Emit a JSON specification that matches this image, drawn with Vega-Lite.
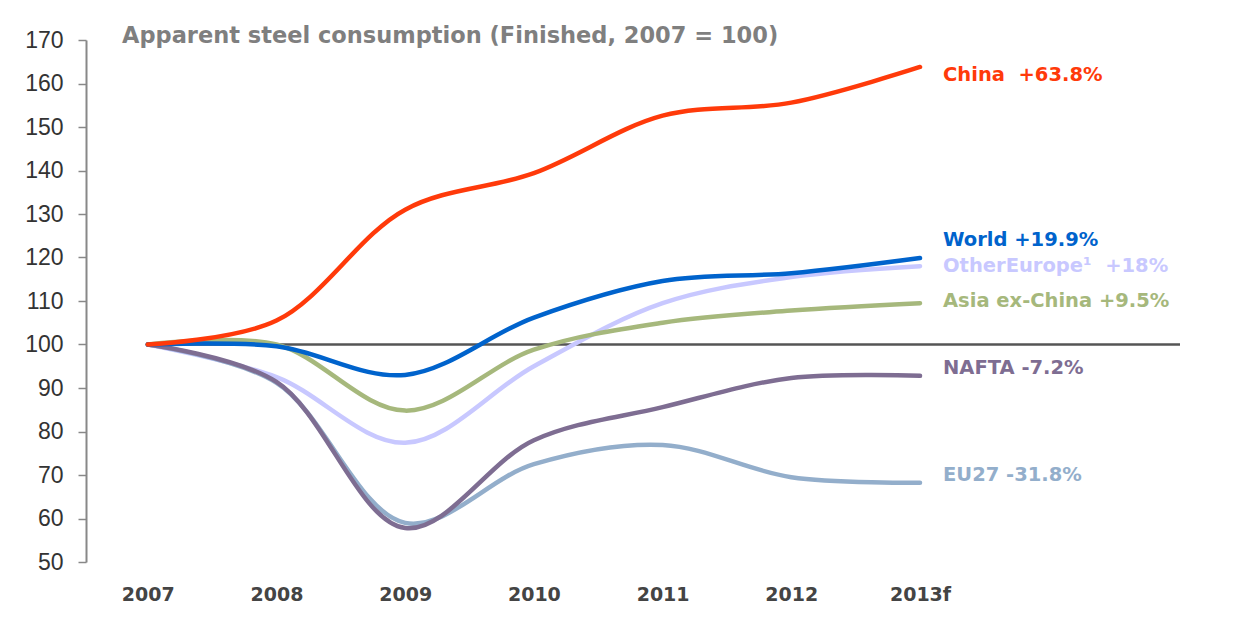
{
  "$schema": "https://vega.github.io/schema/vega-lite/v6.json",
  "autosize": {"type": "none"},
  "padding": {"left": 86, "top": 40, "right": 70, "bottom": 79},
  "width": 1094,
  "height": 522,
  "background": "white",
  "config": {"view": {"stroke": null}},
  "title": {
    "text": "Apparent steel consumption (Finished, 2007 = 100)",
    "anchor": "start",
    "frame": "group",
    "dx": 36,
    "dy": 35,
    "offset": 6,
    "baseline": "middle",
    "font": "DejaVu Sans",
    "fontSize": 22.5,
    "fontWeight": "bold",
    "color": "#7f7f7f"
  },
  "datasets": {
    "series": [
      {"region": "Other Europe", "year": 2007, "value": 100},
      {"region": "Other Europe", "year": 2008, "value": 92.5},
      {"region": "Other Europe", "year": 2009, "value": 77.4},
      {"region": "Other Europe", "year": 2010, "value": 95},
      {"region": "Other Europe", "year": 2011, "value": 109.5},
      {"region": "Other Europe", "year": 2012, "value": 115.5},
      {"region": "Other Europe", "year": 2013, "value": 118},
      {"region": "Asia ex-China", "year": 2007, "value": 100},
      {"region": "Asia ex-China", "year": 2008, "value": 100},
      {"region": "Asia ex-China", "year": 2009, "value": 84.8},
      {"region": "Asia ex-China", "year": 2010, "value": 98.8},
      {"region": "Asia ex-China", "year": 2011, "value": 105},
      {"region": "Asia ex-China", "year": 2012, "value": 107.8},
      {"region": "Asia ex-China", "year": 2013, "value": 109.5},
      {"region": "EU27", "year": 2007, "value": 100},
      {"region": "EU27", "year": 2008, "value": 91.2},
      {"region": "EU27", "year": 2009, "value": 59},
      {"region": "EU27", "year": 2010, "value": 72.5},
      {"region": "EU27", "year": 2011, "value": 76.9},
      {"region": "EU27", "year": 2012, "value": 69.5},
      {"region": "EU27", "year": 2013, "value": 68.2},
      {"region": "NAFTA", "year": 2007, "value": 100},
      {"region": "NAFTA", "year": 2008, "value": 91.4},
      {"region": "NAFTA", "year": 2009, "value": 57.8},
      {"region": "NAFTA", "year": 2010, "value": 78},
      {"region": "NAFTA", "year": 2011, "value": 85.6},
      {"region": "NAFTA", "year": 2012, "value": 92.3},
      {"region": "NAFTA", "year": 2013, "value": 92.8},
      {"region": "World", "year": 2007, "value": 100},
      {"region": "World", "year": 2008, "value": 99.6},
      {"region": "World", "year": 2009, "value": 93},
      {"region": "World", "year": 2010, "value": 106.2},
      {"region": "World", "year": 2011, "value": 114.6},
      {"region": "World", "year": 2012, "value": 116.4},
      {"region": "World", "year": 2013, "value": 119.9},
      {"region": "China", "year": 2007, "value": 100},
      {"region": "China", "year": 2008, "value": 105.5},
      {"region": "China", "year": 2009, "value": 131},
      {"region": "China", "year": 2010, "value": 139.4},
      {"region": "China", "year": 2011, "value": 152.6},
      {"region": "China", "year": 2012, "value": 155.6},
      {"region": "China", "year": 2013, "value": 163.8}
    ],
    "labels": [
      {"region": "China", "text": "China\u00a0\u00a0+63.8%", "pos": 162},
      {"region": "World", "text": "World +19.9%", "pos": 124},
      {"region": "Other Europe", "text": "OtherEurope¹\u00a0\u00a0+18%", "pos": 118},
      {"region": "Asia ex-China", "text": "Asia ex-China +9.5%", "pos": 110},
      {"region": "NAFTA", "text": "NAFTA -7.2%", "pos": 94.5},
      {"region": "EU27", "text": "EU27 -31.8%", "pos": 70}
    ],
    "ref": [{"value": 100, "start": 2007, "end": 2015.02}]
  },
  "layer": [
    {
      "data": {"name": "ref"},
      "mark": {"type": "rule", "color": "#555555", "strokeWidth": 2.5},
      "encoding": {
        "x": {"field": "start", "type": "quantitative", "scale": {"domain": [2006.52, 2015.02], "nice": false, "zero": false}},
        "x2": {"field": "end"},
        "y": {"field": "value", "type": "quantitative"}
      }
    },
    {
      "data": {"name": "series"},
      "mark": {"type": "line", "interpolate": "catmull-rom", "strokeCap": "round"},
      "encoding": {
        "x": {
          "field": "year", "type": "quantitative",
          "scale": {"domain": [2006.52, 2015.02], "nice": false, "zero": false},
          "axis": {
            "title": null,
            "values": [2007, 2008, 2009, 2010, 2011, 2012, 2013],
            "format": "d",
            "labelExpr": "datum.value == 2013 ? '2013f' : datum.label",
            "domain": false,
            "ticks": false,
            "grid": false,
            "labelPadding": 23,
            "labelFont": "DejaVu Sans",
            "labelFontWeight": "bold",
            "labelFontSize": 19,
            "labelColor": "#444444"
          }
        },
        "y": {
          "field": "value", "type": "quantitative",
          "scale": {"domain": [50, 170], "nice": false, "zero": false},
          "axis": {
            "title": null,
            "values": [50, 60, 70, 80, 90, 100, 110, 120, 130, 140, 150, 160, 170],
            "grid": false,
            "domainColor": "#888888",
            "domainWidth": 2,
            "tickColor": "#888888",
            "tickWidth": 1.5,
            "tickSize": 8,
            "labelPadding": 15,
            "labelFont": "Liberation Sans",
            "labelFontSize": 23,
            "labelColor": "#333333"
          }
        },
        "color": {
          "field": "region", "type": "nominal", "legend": null,
          "scale": {
            "domain": ["Other Europe", "Asia ex-China", "EU27", "NAFTA", "World", "China"],
            "range": ["#c8c8ff", "#a6b87c", "#93aecb", "#7e6d92", "#0063cc", "#ff3a0a"]
          }
        },
        "strokeWidth": {
          "field": "region", "type": "nominal", "legend": null,
          "scale": {
            "domain": ["Other Europe", "Asia ex-China", "EU27", "NAFTA", "World", "China"],
            "range": [4.5, 4.5, 2.5, 4.5, 4.5, 4.5]
          }
        }
      }
    },
    {
      "data": {"name": "labels"},
      "mark": {"type": "text", "align": "left", "baseline": "middle", "dx": 23, "font": "DejaVu Sans", "fontWeight": "bold", "fontSize": 19.5},
      "encoding": {
        "x": {"datum": 2013, "type": "quantitative"},
        "y": {"field": "pos", "type": "quantitative"},
        "text": {"field": "text"},
        "color": {"field": "region", "type": "nominal", "legend": null}
      }
    }
  ]
}
